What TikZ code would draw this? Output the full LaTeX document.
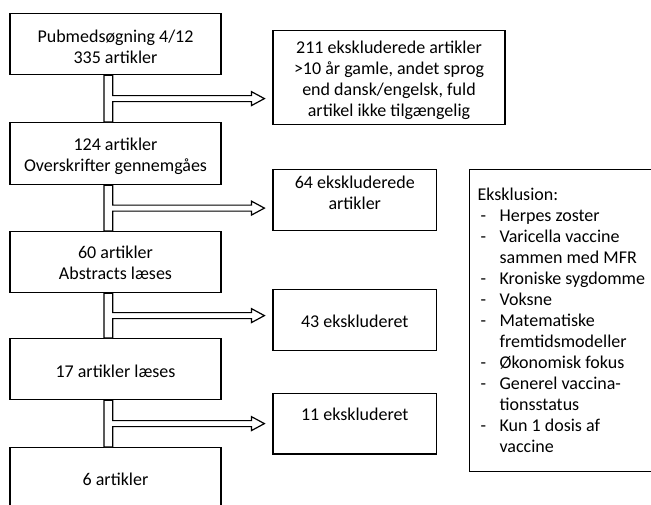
\documentclass[tikz,border=0pt]{standalone}
\usepackage{fontspec}
\setmainfont{Carlito}
\usepackage{tikz}
\usetikzlibrary{calc}

\tikzset{
  boks/.style={draw, line width=0.6pt, inner sep=0pt, align=center, anchor=north},
  hovedboks/.style={boks, minimum width=105.5pt},
  udboks/.style={boks, minimum width=81.75pt},
  pil/.style={draw, fill=white, line width=0.6pt, line join=miter}
}

% hul pil: fra #1 ned til #2, med gren ud mod #3
\newcommand{\udpil}[3]{%
  \draw[pil] let \p1=(#1.south), \p2=(#2.north), \p3=(#3.west) in
    ({\x1-5.75pt},\y1) -- ({\x1-5.75pt},\y2) -- ({\x1-1.4pt},\y2)
    -- ({\x1-1.4pt},{(\y1+\y2)/2-1.5pt}) -- ({\x3-10.5pt},{(\y1+\y2)/2-1.5pt})
    -- ({\x3-10.5pt},{(\y1+\y2)/2-3.5pt}) -- ({\x3-4pt},{(\y1+\y2)/2})
    -- ({\x3-10.5pt},{(\y1+\y2)/2+3.5pt}) -- ({\x3-10.5pt},{(\y1+\y2)/2+1.5pt})
    -- ({\x1-1.4pt},{(\y1+\y2)/2+1.5pt}) -- ({\x1-1.4pt},\y1) -- cycle;}

\begin{document}
\begin{tikzpicture}[x=0.5pt, y=-0.5pt, font=\fontsize{9}{10.5}\selectfont]
    \useasboundingbox (0,0) rectangle (651,504);
    \clip (0,0) rectangle (651,504);

    % Hovedkolonnen med de trin, artiklerne går igennem
    \node[hovedboks, text height=25.15pt, text depth=5.35pt] (soegning) at (115.5,13) {Pubmedsøgning 4/12\\335 artikler};
    \node[hovedboks, text height=24.35pt, text depth=6.65pt] (overskrifter) at (115.5,122) {124 artikler\\Overskrifter gennemgåes};
    \node[hovedboks, text height=24.15pt, text depth=6.35pt] (abstracts) at (115.5,231) {60 artikler\\Abstracts læses};
    \node[hovedboks, text height=19.35pt, text depth=11.15pt] (laeses) at (115.5,338) {17 artikler læses};
    \node[hovedboks, text height=19pt, text depth=15pt] (slut) at (115.5,447) {6 artikler};

    % Ekskluderede artikler ved hvert trin
    \node[udboks, minimum width=116pt, text height=43pt, text depth=3.75pt] (ud1) at (389,30) {211 ekskluderede artikler\\>10 år gamle, andet sprog\\end dansk/engelsk, fuld\\artikel ikke tilgængelig};
    \node[udboks, text height=20.25pt, text depth=10.5pt] (ud2) at (354.75,168.5) {64 ekskluderede\\artikler};
    \node[udboks, text height=19.1pt, text depth=11.65pt] (ud3) at (354.75,288.5) {43 ekskluderet};
    \node[udboks, text height=13.65pt, text depth=16.65pt] (ud4) at (354.75,392.7) {11 ekskluderet};

    % Eksklusionskriterier
    \node[boks, anchor=north west, align=left, inner xsep=4pt,
          text height=15.5pt, text depth=135.5pt] (kriterier) at (469,169)
        {\begin{tabular}[t]{@{}p{11pt}@{}p{100pt}@{}}
           \multicolumn{2}{@{}l@{}}{Eksklusion:}\\
           \hspace{1.5pt}- & Herpes zoster\\
           \hspace{1.5pt}- & Varicella vaccine\\
                           & sammen med MFR\\
           \hspace{1.5pt}- & Kroniske sygdomme\\
           \hspace{1.5pt}- & Voksne\\
           \hspace{1.5pt}- & Matematiske\\
                           & fremtidsmodeller\\
           \hspace{1.5pt}- & Økonomisk fokus\\
           \hspace{1.5pt}- & Generel vaccina-\\
                           & tionsstatus\\
           \hspace{1.5pt}- & Kun 1 dosis af\\
                           & vaccine
         \end{tabular}};

    % Hule pile mellem trinene
    \udpil{soegning}{overskrifter}{ud1}
    \udpil{overskrifter}{abstracts}{ud2}
    \udpil{abstracts}{laeses}{ud3}
    \udpil{laeses}{slut}{ud4}
\end{tikzpicture}
\end{document}
